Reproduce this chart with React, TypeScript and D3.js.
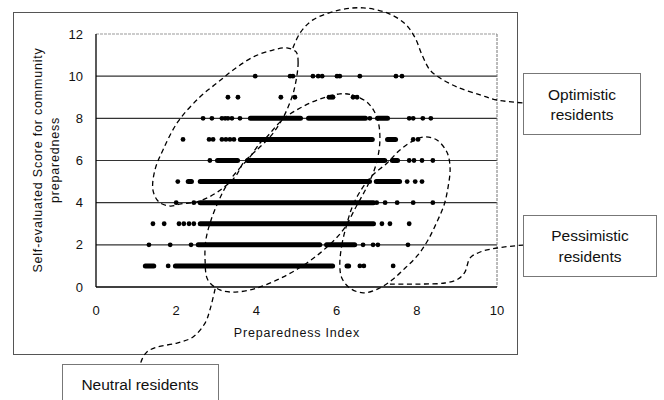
import * as d3 from "d3";

// score rows (y) and their readings of the preparedness index (x)
const scoreLevels = [1, 2, 3, 4, 5, 6, 7, 8, 9, 10];

// isolated respondents per score
const s1Points = [1.8, 6.58, 6.68, 7.41];
const s2Points = [1.32, 1.85, 2.37, 6.66, 6.91, 7.03, 7.78];
const s3Points = [1.42, 1.7, 2.07, 2.19, 2.32, 2.44, 7.13, 7.33, 7.81];
const s4Points = [2.0, 2.44, 7.0, 7.21, 7.51, 7.91, 8.4];
const s5Points = [2.04, 7.76, 7.96, 8.13];
const s6Points = [2.84, 7.81, 7.93, 8.13, 8.4];
const s7Points = [2.17, 2.82, 2.92, 3.14, 3.24, 3.34, 3.44, 7.91, 8.03];
const s8Points = [2.67, 2.89, 3.14, 3.22, 3.29, 3.39, 3.59, 6.83, 7.81, 7.91, 8.15, 8.35];
const s9Points = [3.29, 3.54, 4.61, 4.96, 5.81, 5.86, 5.91, 6.41, 6.51];
const s10Points = [3.97, 4.84, 4.91, 5.41, 5.54, 5.64, 6.01, 6.08, 6.58, 7.48, 7.63];

// stretches where markers overlap into a solid band [from, to]
const s1Runs = [[1.17, 1.5], [1.92, 5.96], [6.2, 6.36]];
const s2Runs = [[2.49, 5.64], [5.69, 6.51]];
const s3Runs = [[2.54, 6.98]];
const s4Runs = [[2.54, 6.98]];
const s5Runs = [[2.24, 2.44], [2.54, 6.88], [6.93, 7.63]];
const s6Runs = [[2.97, 3.59], [3.72, 7.26], [7.33, 7.58]];
const s7Runs = [[3.54, 6.95], [7.21, 7.53]];
const s8Runs = [[3.79, 5.16], [5.24, 6.78], [6.96, 7.33]];
const s9Runs: number[][] = [];
const s10Runs: number[][] = [];

const xTicks = [0, 2, 4, 6, 8, 10];
const yTicks = [0, 2, 4, 6, 8, 10, 12];

// annotation outlines, in data units
const optimisticLoop = [
  [4.99, 11.15], [5.04, 10.67], [4.94, 9.35], [4.76, 8.4], [4.59, 7.78], [4.34, 7.12],
  [4.01, 6.5], [3.67, 5.88], [3.49, 5.27], [3.17, 4.7], [2.82, 4.27], [2.49, 4.03],
  [2.12, 3.94], [1.85, 3.84], [1.57, 4.03], [1.42, 4.6], [1.47, 5.55], [1.67, 6.5],
  [2.04, 7.83], [2.59, 9.01], [3.02, 9.68], [3.42, 10.29], [3.92, 10.91], [4.41, 11.24],
  [4.76, 11.34],
];
const neutralLoop = [
  [6.08, 9.16], [6.38, 9.11], [6.78, 8.73], [7.01, 8.02], [7.08, 6.97], [6.98, 5.79],
  [6.78, 4.84], [6.51, 3.89], [6.16, 2.7], [5.76, 1.9], [5.26, 1.14], [4.66, 0.47],
  [4.01, -0.05], [3.47, -0.24], [3.09, -0.14], [2.79, 0.33], [2.72, 1.28], [2.74, 2.23],
  [2.87, 3.18], [3.07, 4.13], [3.29, 4.93], [3.59, 5.65], [3.84, 6.17], [4.09, 6.83],
  [4.26, 7.12], [4.64, 7.92], [5.09, 8.49], [5.59, 8.92],
];
const pessimisticLoop = [
  [6.08, 1.04], [6.13, 1.99], [6.23, 2.8], [6.38, 3.75], [6.58, 4.51], [6.88, 5.27],
  [7.26, 5.88], [7.58, 6.5], [7.91, 6.93], [8.2, 7.12], [8.5, 6.97], [8.75, 6.4],
  [8.83, 5.65], [8.78, 4.74], [8.68, 3.89], [8.5, 3.08], [8.28, 2.23], [8.03, 1.52],
  [7.71, 0.9], [7.38, 0.33], [7.03, -0.09], [6.66, -0.28], [6.33, -0.05], [6.13, 0.43],
];
const optimisticLeader = [
  [4.91, 11.34], [5.09, 12.05], [5.41, 12.67], [6.08, 13.14], [6.66, 13.24], [7.26, 13.0],
  [7.71, 12.48], [7.96, 11.81], [8.13, 11.01], [8.33, 10.29], [8.58, 9.91], [9.0, 9.49],
  [9.58, 9.11], [10.0, 8.87], [10.65, 8.73],
];
const neutralLeader = [
  [2.97, -0.09], [2.84, -1.09], [2.72, -1.71], [2.42, -2.37], [2.02, -2.66], [1.52, -2.85],
  [1.27, -3.08], [1.15, -3.42], [1.1, -3.7],
];
const pessimisticLeader = [
  [7.33, 0.14], [8.08, 0.14], [8.7, 0.19], [9.03, 0.38], [9.2, 0.71], [9.33, 1.38],
  [9.58, 1.66], [10.0, 1.85], [10.65, 1.99],
];

const W = 664;
const H = 400;
const font = "'Liberation Sans', Arial, sans-serif";

export default function App() {
  const x = d3.scaleLinear().domain([0, 10]).range([96, 497]);
  const y = d3.scaleLinear().domain([0, 12]).range([287, 34]);

  const pointRows = [s1Points, s2Points, s3Points, s4Points, s5Points, s6Points, s7Points, s8Points, s9Points, s10Points];
  const runRows = [s1Runs, s2Runs, s3Runs, s4Runs, s5Runs, s6Runs, s7Runs, s8Runs, s9Runs, s10Runs];

  const closed = d3.line().x((d) => x(d[0])).y((d) => y(d[1])).curve(d3.curveCatmullRomClosed);
  const open = d3.line().x((d) => x(d[0])).y((d) => y(d[1])).curve(d3.curveCatmullRom);

  const dash = { fill: "none", stroke: "#000", strokeWidth: 1.3, strokeDasharray: "5,3.5" };

  return (
    <div style={{ position: "absolute", left: 0, top: 0 }}>
      <svg width={W} height={H} style={{ display: "block", background: "#fff" }}>
        {/* outer chart frame */}
        <rect x={13.5} y={12.5} width={504} height={342} fill="none" stroke="#555" strokeWidth={1} />

        {/* gridlines */}
        {yTicks.filter((t) => t > 0).map((t) => (
          <line key={t} x1={x(0)} x2={x(10)} y1={y(t)} y2={y(t)}
            stroke={t === 12 ? "#999" : "#333"} strokeWidth={t === 12 ? 1 : 1.1}
            strokeDasharray={t === 12 ? "3,1" : undefined} />
        ))}
        <line x1={x(10)} x2={x(10)} y1={y(12)} y2={y(0)} stroke="#777" strokeWidth={1} strokeDasharray="3,1" />
        <line x1={x(0)} x2={x(0)} y1={y(12)} y2={y(0)} stroke="#000" strokeWidth={1.3} />
        <line x1={x(0)} x2={x(10)} y1={y(0)} y2={y(0)} stroke="#000" strokeWidth={1.3} />

        {/* dense bands */}
        {runRows.map((runs, i) =>
          runs.map((r, j) => (
            <line key={`r${i}-${j}`} x1={x(r[0]) + 2.4} x2={x(r[1]) - 2.4}
              y1={y(scoreLevels[i])} y2={y(scoreLevels[i])}
              stroke="#000" strokeWidth={5} strokeLinecap="round" />
          ))
        )}
        {/* single markers */}
        {pointRows.map((pts, i) =>
          pts.map((v, j) => (
            <circle key={`p${i}-${j}`} cx={x(v)} cy={y(scoreLevels[i])} r={2.4} fill="#000" />
          ))
        )}

        {/* axes labels */}
        {yTicks.map((t) => (
          <text key={t} x={83} y={y(t)} dy="0.35em" textAnchor="end" fontFamily={font} fontSize={13} fill="#111">{t}</text>
        ))}
        {xTicks.map((t) => (
          <text key={t} x={x(t)} y={310} dy="0.35em" textAnchor="middle" fontFamily={font} fontSize={13} fill="#111">{t}</text>
        ))}
        <text x={297} y={333} dy="0.35em" textAnchor="middle" fontFamily={font} fontSize={12.5} letterSpacing={0.8} fill="#111">
          Preparedness Index
        </text>
        <g transform="translate(38,160) rotate(-90)">
          <text x={0} y={0} dy="0.35em" textAnchor="middle" fontFamily={font} fontSize={12.5} letterSpacing={0.8} fill="#111">
            Self-evaluated Score for community
          </text>
          <text x={0} y={17} dy="0.35em" textAnchor="middle" fontFamily={font} fontSize={12.5} letterSpacing={0.8} fill="#111">
            preparedness
          </text>
        </g>

        {/* annotations */}
        <path d={closed(optimisticLoop as [number, number][]) ?? ""} {...dash} />
        <path d={closed(neutralLoop as [number, number][]) ?? ""} {...dash} />
        <path d={closed(pessimisticLoop as [number, number][]) ?? ""} {...dash} />
        <path d={open(optimisticLeader as [number, number][]) ?? ""} {...dash} />
        <path d={open(neutralLeader as [number, number][]) ?? ""} {...dash} />
        <path d={open(pessimisticLeader as [number, number][]) ?? ""} {...dash} />

        {/* callout boxes */}
        <rect x={523.5} y={73.5} width={117} height={61} fill="#fff" stroke="#777" strokeWidth={1} />
        <text x={582} y={95} dy="0.35em" textAnchor="middle" fontFamily={font} fontSize={15.5} fill="#111">Optimistic</text>
        <text x={582} y={115} dy="0.35em" textAnchor="middle" fontFamily={font} fontSize={15.5} fill="#111">residents</text>

        <rect x={523.5} y={215.5} width={133} height={61} fill="#fff" stroke="#777" strokeWidth={1} />
        <text x={590} y={236} dy="0.35em" textAnchor="middle" fontFamily={font} fontSize={15.5} fill="#111">Pessimistic</text>
        <text x={590} y={257} dy="0.35em" textAnchor="middle" fontFamily={font} fontSize={15.5} fill="#111">residents</text>

        <rect x={62.5} y={364.5} width={156} height={45} fill="#fff" stroke="#777" strokeWidth={1} />
        <text x={140} y={385} dy="0.35em" textAnchor="middle" fontFamily={font} fontSize={15.5} fill="#111">Neutral residents</text>
      </svg>
    </div>
  );
}
